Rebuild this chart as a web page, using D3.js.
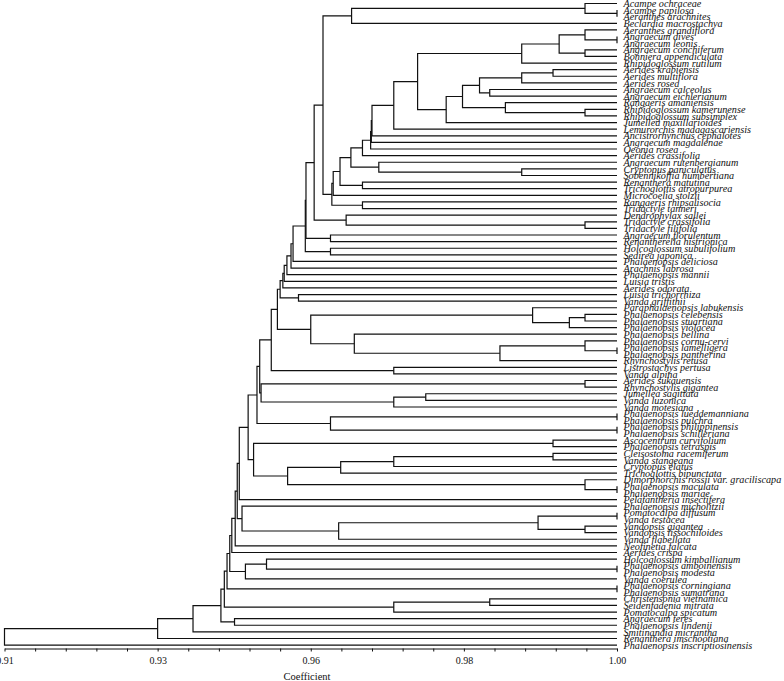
<!DOCTYPE html>
<html><head><meta charset="utf-8">
<script src="https://cdn.jsdelivr.net/npm/d3@7"></script>
<style>body{margin:0;background:#fff}svg{display:block}</style>
</head><body><svg id="chart" width="784" height="681"></svg>
<script>
// Leaf labels, top to bottom
const leaves = [
"Acampe ochraceae","Acampe papilosa","Aeranthes arachnites","Beclardia macrostachya","Aeranthes grandiflora",
"Angraecum dives","Angraecum leonis","Angraecum conchiferum","Bonniera appendiculata","Rhipidoglossum rutilum",
"Aerides krabiensis","Aerides multiflora","Aerides rosea","Angraecum calceolus","Angraecum eichlerianum",
"Rangaeris amaniensis","Rhipidoglossum kamerunense","Rhipidoglossum subsimplex","Jumellea maxillarioides","Lemurorchis madagascariensis",
"Ancistrorhynchus cephalotes","Angraecum magdalenae","Oeonia rosea","Aerides crassifolia","Angraecum rutenbergianum",
"Cryptopus paniculatus","Sobennikoffia humbertiana","Renanthera matutina","Trichoglottis atropurpurea","Microcoelia stolzii",
"Rangaeris rhipsalisocia","Tridactyle tanneri","Dendrophylax sallei","Tridactyle crassifolia","Tridactyle filifolia",
"Angraecum florulentum","Renantherella histrionica","Holcoglossum subulifolium","Sedirea japonica","Phalaenopsis deliciosa",
"Arachnis labrosa","Phalaenopsis mannii","Luisia tristis","Aerides odorata","Luisia trichorrhiza",
"Vanda griffithii","Paraphalaenopsis labukensis","Phalaenopsis celebensis","Phalaenopsis stuartiana","Phalaenopsis violacea",
"Phalaenopsis bellina","Phalaenopsis cornu-cervi","Phalaenopsis lamelligera","Phalaenopsis pantherina","Rhynchostylis retusa",
"Listrostachys pertusa","Vanda alpina","Aerides sukauensis","Rhynchostylis gigantea","Jumellea sagittata",
"Vanda luzonica","Vanda motesiana","Phalaenopsis lueddemanniana","Phalaenopsis pulchra","Phalaenopsis philippinensis",
"Phalaenopsis schilleriana","Ascocentrum curvifolium","Phalaenopsis tetraspis","Cleisostoma racemiferum","Vanda stangeana",
"Cryptopus elatus","Trichoglottis bipunctata","Dimorphorchis rossii var. graciliscapa","Phalaenopsis maculata","Phalaenopsis mariae",
"Pelatantheria insectifera","Phalaenopsis micholitzii","Pomatocalpa diffusum","Vanda testacea","Vandopsis gigantea",
"Vandopsis lissochiloides","Vanda flabellata","Neofinetia falcata","Aerides crispa","Holcoglossum kimballianum",
"Phalaenopsis amboinensis","Phalaenopsis modesta","Vanda coerulea","Phalaenopsis corningiana","Phalaenopsis sumatrana",
"Christensonia vietnamica","Seidenfadenia mitrata","Pomatocalpa spicatum","Angraecum teres","Phalaenopsis lindenii",
"Smitinandia micrantha","Renanthera imschootiana","Phalaenopsis inscriptiosinensis"
];

// Merges: [upper child, lower child, coefficient]; numbers = leaf index, "mK" = merge K
const merges = [
[1,2,1.000],[0,"m0",0.9953],["m1",3,0.9610],[5,6,1.000],[4,"m3",0.9953],
[7,8,0.9953],["m4","m5",0.9915],["m6",9,0.9860],[10,11,0.9906],["m8",12,0.9860],
[13,14,0.9813],["m9","m10",0.9798],[16,17,0.9953],[15,"m12",0.9836],["m11","m13",0.9773],
["m14",18,0.9749],["m7","m15",0.9707],["m16",19,0.9672],["m17",20,0.9640],["m18",21,0.9639],
["m19",22,0.9638],["m20",23,0.9626],[25,26,0.9860],[24,"m22",0.9650],["m21","m23",0.9609],
[27,28,0.9626],["m24","m25",0.9593],["m26",29,0.9583],[30,31,0.9626],["m27","m28",0.9581],
["m2","m29",0.9568],[33,34,0.9953],[32,"m31",0.9602],["m30","m32",0.9555],[35,36,0.9579],
["m33","m34",0.9543],[37,38,0.9579],["m35","m36",0.9542],["m37",39,0.9524],["m38",40,0.9521],
["m39",41,0.9515],["m40",42,0.9511],["m41",43,0.9509],[44,45,0.9532],["m42","m43",0.9505],
[47,48,0.9953],["m45",49,0.9930],[46,"m46",0.9876],[52,53,1.000],[51,"m48",0.9953],
["m49",54,0.9828],[50,"m50",0.9614],["m47","m51",0.9550],["m44","m52",0.9501],[55,56,0.9672],
["m53","m54",0.9492],[57,58,0.9953],[59,60,0.9719],["m57",61,0.9672],["m56","m58",0.9477],
["m55","m59",0.9475],[62,63,1.000],[64,65,1.000],["m61","m62",0.9579],["m60","m63",0.9471],
[66,67,0.9906],[68,69,0.9906],["m66",70,0.9672],["m67",71,0.9594],[73,74,1.000],
[72,"m69",0.9953],["m68","m70",0.9516],["m65","m71",0.9466],["m64","m72",0.9458],["m73",75,0.9445],
[77,78,1.000],[79,80,0.9953],["m75","m76",0.9884],["m77",81,0.9591],[76,"m78",0.9449],
["m74","m79",0.9442],["m80",82,0.9439],["m81",83,0.9434],[85,86,1.000],[84,"m83",0.9485],
["m84",87,0.9454],["m82","m85",0.9431],[88,89,1.000],["m86","m87",0.9427],[90,91,0.9813],
["m89",92,0.9672],["m88","m90",0.9423],[93,94,0.9438],["m91","m92",0.9418],["m93",95,0.9377],
["m94",96,0.9325],["m95",97,0.9100]
];

const axisDomain = [0.91, 1.00];
const majorTicks = [0.91, 0.9325, 0.955, 0.9775, 1.00];
const tickLabels = ["0.91","0.93","0.96","0.98","1.00"];
const minorPerMajor = 5;
const axisTitle = "Coefficient";

const svg = d3.select("#chart");
const x = d3.scaleLinear().domain(axisDomain).range([4.5, 617]);
const y = d3.scalePoint().domain(d3.range(leaves.length)).range([3.5, 645.1]);

function build(ref){
  if (typeof ref === "number") return {index: ref, name: leaves[ref], h: axisDomain[1]};
  const m = merges[+ref.slice(1)];
  return {h: m[2], children: [build(m[0]), build(m[1])]};
}
const root = d3.hierarchy(build("m" + (merges.length - 1)));
root.eachAfter(n => {
  n.px = x(n.data.h);
  n.py = n.children ? (n.children[0].py + n.children[1].py) / 2 : y(n.data.index);
});

const g = svg.append("g");
g.selectAll("path.link")
  .data(root.descendants().filter(d => d.children))
  .join("path")
  .attr("class","link")
  .attr("fill","none")
  .attr("stroke","#111")
  .attr("stroke-width",1.2)
  .attr("d", n => {
    const [a, b] = n.children;
    return `M${a.px},${a.py}H${n.px}V${b.py}H${b.px}`;
  });

g.selectAll("text.leaf")
  .data(root.leaves())
  .join("text")
  .attr("class","leaf")
  .attr("x", 623.5)
  .attr("y", d => d.py)
  .attr("dy","0.36em")
  .style("font-family","'Liberation Serif','Times New Roman',serif")
  .style("font-style","italic")
  .style("font-size","10.2px")
  .attr("fill","#111")
  .text(d => d.data.name);

// axis
const step = (majorTicks[1] - majorTicks[0]) / minorPerMajor;
const allTicks = d3.range((majorTicks.length - 1) * minorPerMajor + 1).map(k => axisDomain[0] + k * step);
const labelFor = v => {
  const i = majorTicks.findIndex(t => Math.abs(t - v) < 1e-6);
  return i >= 0 ? tickLabels[i] : "";
};
const ax = svg.append("g").attr("transform","translate(0,648.5)")
  .call(d3.axisBottom(x).tickValues(allTicks).tickSize(3).tickSizeOuter(0).tickFormat(labelFor));
ax.select(".domain").attr("stroke","#111").attr("stroke-width",1);
ax.selectAll(".tick line").attr("stroke","#111");
ax.selectAll(".tick text")
  .attr("y", 8)
  .style("font-family","'Liberation Serif','Times New Roman',serif")
  .style("font-size","10px")
  .attr("fill","#111");

svg.append("text")
  .attr("x", 307).attr("y", 680)
  .attr("text-anchor","middle")
  .style("font-family","'Liberation Serif','Times New Roman',serif")
  .style("font-size","10.5px")
  .attr("fill","#111")
  .text(axisTitle);
</script>
</body></html>
